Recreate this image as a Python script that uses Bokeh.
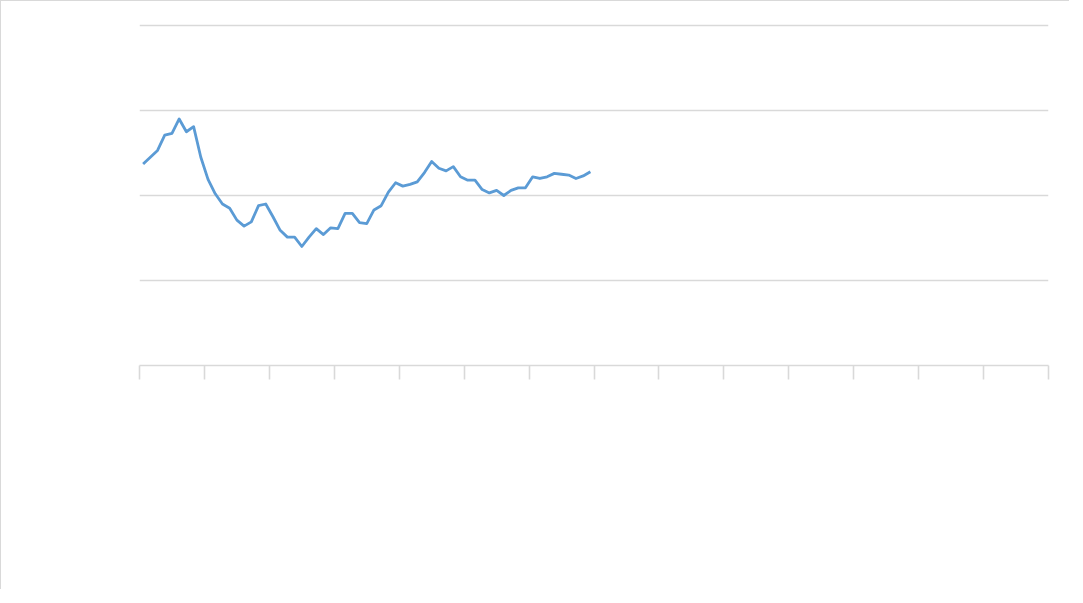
from bokeh.plotting import figure
from bokeh.models import FixedTicker, Range1d
from bokeh.embed import file_html
from bokeh.resources import INLINE

# ---- data ----
n_categories = 126
tick_every = 9
values = [2.37, 2.45, 2.53, 2.71, 2.73, 2.90, 2.75, 2.81, 2.45, 2.19,
          2.02, 1.90, 1.85, 1.71, 1.64, 1.69, 1.88, 1.90, 1.75, 1.59,
          1.51, 1.51, 1.40, 1.51, 1.61, 1.54, 1.62, 1.61, 1.79, 1.79,
          1.68, 1.67, 1.83, 1.88, 2.04, 2.15, 2.11, 2.13, 2.16, 2.27,
          2.40, 2.32, 2.29, 2.34, 2.22, 2.18, 2.18, 2.07, 2.03, 2.06,
          2.00, 2.06, 2.09, 2.09, 2.22, 2.20, 2.22, 2.26, 2.25, 2.24,
          2.20, 2.23, 2.28]
y_min, y_max = 0, 4
y_grid = [1, 2, 3, 4]

xs = [i + 0.5 for i in range(len(values))]

# small headroom so the top gridline (at y_max) is not clipped by the frame
p = figure(width=1069, height=589, output_backend="svg", toolbar_location=None,
           x_range=Range1d(0, n_categories), y_range=Range1d(y_min, y_max + 0.035),
           min_border_left=138, min_border_right=22, min_border_top=21,
           min_border_bottom=225)
p.styles = {"border-left": "1px solid #d9d9d9", "border-top": "1px solid #d9d9d9"}
p.outline_line_color = None
p.background_fill_color = "white"
p.border_fill_color = "white"

p.line(xs, values, line_color="#5B9BD5", line_width=2.8, line_join="round")

# axes
p.yaxis.visible = False
p.xaxis.ticker = FixedTicker(ticks=list(range(0, n_categories + 1, tick_every)))
p.xaxis.axis_line_color = "#d9d9d9"
p.xaxis.axis_line_width = 1.6
p.xaxis.major_tick_line_color = "#d9d9d9"
p.xaxis.major_tick_line_width = 1.6
p.xaxis.major_tick_out = 14
p.xaxis.major_tick_in = 0
p.xaxis.minor_tick_line_color = None
p.xaxis.major_label_text_color = None
p.xaxis.major_label_text_font_size = "1px"

p.xgrid.visible = False
p.ygrid.ticker = FixedTicker(ticks=y_grid)
p.ygrid.grid_line_color = "#d9d9d9"
p.ygrid.grid_line_width = 1.3

open("out.html", "w").write(file_html(p, INLINE))
